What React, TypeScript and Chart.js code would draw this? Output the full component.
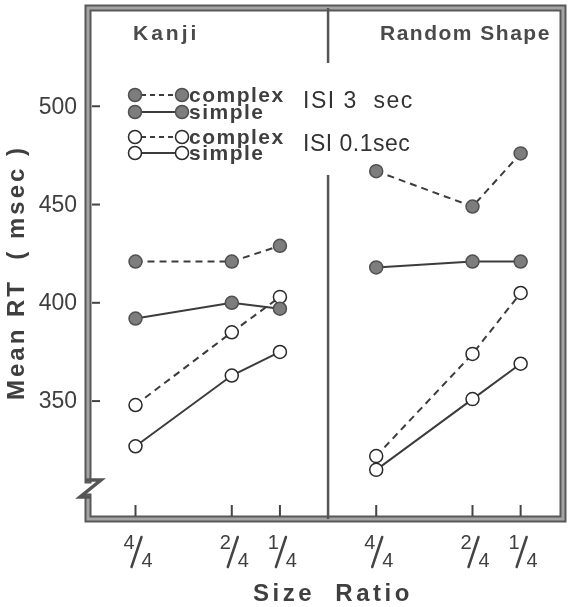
import React, { useEffect, useRef } from "react";
import { Chart, registerables } from "chart.js";

Chart.register(...registerables);

// ---- data ----
const panelTitles = ["Kanji", "Random Shape"];
const sizeRatios = [1, 0.5, 0.25];
const sizeRatioNumerators = ["4", "2", "1"];
const sizeRatioDenominators = ["4", "4", "4"];
const yTickValues = [350, 400, 450, 500];

const kanjiComplexISI3 = [421, 421, 429];
const kanjiSimpleISI3 = [392, 400, 397];
const kanjiComplexISI01 = [348, 385, 403];
const kanjiSimpleISI01 = [327, 363, 375];

const shapeComplexISI3 = [467, 449, 476];
const shapeSimpleISI3 = [418, 421, 421];
const shapeComplexISI01 = [322, 374, 405];
const shapeSimpleISI01 = [315, 351, 369];

const seriesNames = ["complex", "simple", "complex", "simple"];
const isiLabels = ["ISI 3  sec", "ISI 0.1sec"];
const yTitle = "Mean RT  ( msec )";
const xTitle = "Size  Ratio";

// ---- layout helpers ----
const PANEL_OFFSETS = [0, 1.25];
const toX = (panel: number, r: number) => PANEL_OFFSETS[panel] + (1 - r);

const FILLED = "#7d7d7d";
const FILLED_EDGE = "#505050";
const LINE = "#3c3c3c";
const TEXT = "#3f3f3f";
const SANS = '"Liberation Sans", Arial, sans-serif';

const panelSeries = [
  [kanjiComplexISI3, kanjiSimpleISI3, kanjiComplexISI01, kanjiSimpleISI01],
  [shapeComplexISI3, shapeSimpleISI3, shapeComplexISI01, shapeSimpleISI01],
];

function buildDatasets() {
  const ds: any[] = [];
  panelSeries.forEach((series, p) => {
    series.forEach((vals, s) => {
      const filled = s < 2;
      const dashed = s % 2 === 0;
      ds.push({
        label: `${panelTitles[p]} ${seriesNames[s]} ${isiLabels[filled ? 0 : 1]}`,
        data: vals.map((v, i) => ({ x: toX(p, sizeRatios[i]), y: v })),
        borderColor: LINE,
        borderWidth: 2,
        borderDash: dashed ? [7, 5] : [],
        pointRadius: 6.5,
        pointBorderWidth: 1.5,
        pointBackgroundColor: filled ? FILLED : "#ffffff",
        pointBorderColor: filled ? FILLED_EDGE : "#2a2a2a",
        fill: false,
        tension: 0,
      });
    });
  });
  return ds;
}

function marker(ctx: CanvasRenderingContext2D, x: number, y: number, filled: boolean) {
  ctx.beginPath();
  ctx.arc(x, y, 6.5, 0, Math.PI * 2);
  ctx.fillStyle = filled ? FILLED : "#ffffff";
  ctx.fill();
  ctx.lineWidth = 1.5;
  ctx.strokeStyle = filled ? FILLED_EDGE : "#2a2a2a";
  ctx.stroke();
}

const setSpacing = (ctx: CanvasRenderingContext2D, px: number) => {
  (ctx as any).letterSpacing = `${px}px`;
};

const decorPlugin = {
  id: "decor",
  beforeDatasetsDraw(chart: any) {
    const ctx: CanvasRenderingContext2D = chart.ctx;
    const { left, right, top, bottom } = chart.chartArea;
    const xs = chart.scales.x;
    const ys = chart.scales.y;
    ctx.save();

    // frame
    const frameStroke = (draw: () => void) => {
      ctx.lineCap = "square";
      ctx.lineJoin = "miter";
      ctx.setLineDash([]);
      ctx.strokeStyle = "#585858";
      ctx.lineWidth = 7;
      ctx.beginPath();
      draw();
      ctx.stroke();
      ctx.strokeStyle = "#a4a4a4";
      ctx.lineWidth = 3;
      ctx.beginPath();
      draw();
      ctx.stroke();
    };
    const breakTop = bottom - 39;
    const breakBot = bottom - 22;
    frameStroke(() => {
      ctx.moveTo(left, breakTop);
      ctx.lineTo(left, top);
      ctx.lineTo(right, top);
      ctx.lineTo(right, bottom);
      ctx.lineTo(left, bottom);
      ctx.lineTo(left, breakBot);
    });
    // axis break zigzag
    ctx.strokeStyle = "#555";
    ctx.lineWidth = 3.5;
    ctx.lineCap = "butt";
    ctx.beginPath();
    ctx.moveTo(left - 3, breakTop);
    ctx.lineTo(left + 13, breakTop);
    ctx.lineTo(left - 8, breakBot);
    ctx.lineTo(left + 3, breakBot);
    ctx.stroke();

    // panel divider
    const dx = xs.getPixelForValue(1);
    ctx.strokeStyle = "#555";
    ctx.lineWidth = 2.5;
    ctx.beginPath();
    ctx.moveTo(dx, top);
    ctx.lineTo(dx, 63);
    ctx.moveTo(dx, 175);
    ctx.lineTo(dx, bottom);
    ctx.stroke();

    // y ticks + labels
    ctx.font = `23px ${SANS}`;
    ctx.fillStyle = TEXT;
    ctx.textAlign = "right";
    ctx.textBaseline = "middle";
    ctx.strokeStyle = "#444";
    ctx.lineWidth = 2;
    yTickValues.forEach((v) => {
      const y = ys.getPixelForValue(v);
      ctx.beginPath();
      ctx.moveTo(left + 4, y);
      ctx.lineTo(left + 12, y);
      ctx.stroke();
      ctx.fillText(String(v), left - 11, y + 1);
    });

    // x ticks + fraction labels
    panelTitles.forEach((_, p) => {
      sizeRatios.forEach((r, i) => {
        const x = xs.getPixelForValue(toX(p, r));
        ctx.strokeStyle = "#444";
        ctx.lineWidth = 2;
        ctx.beginPath();
        ctx.moveTo(x, bottom - 3);
        ctx.lineTo(x, bottom - 14);
        ctx.stroke();
        ctx.font = `20px ${SANS}`;
        ctx.fillStyle = TEXT;
        ctx.textBaseline = "alphabetic";
        ctx.textAlign = "center";
        ctx.fillText(sizeRatioNumerators[i], x - 6.5, 549);
        ctx.fillText(sizeRatioDenominators[i], x + 11.5, 567);
        ctx.beginPath();
        ctx.lineWidth = 2.5;
        ctx.lineCap = "round";
        ctx.moveTo(x + 6, 537);
        ctx.lineTo(x - 4, 567);
        ctx.stroke();
        ctx.lineCap = "butt";
      });
    });

    // panel titles
    ctx.fillStyle = "#4a4a4a";
    ctx.textBaseline = "middle";
    ctx.font = `bold 21px ${SANS}`;
    setSpacing(ctx, 3);
    ctx.textAlign = "left";
    ctx.fillText(panelTitles[0], 133, 34);
    setSpacing(ctx, 1.5);
    ctx.fillText(panelTitles[1], 380, 34);

    // legend
    const rowsY = [95, 112, 137, 153];
    seriesNames.forEach((name, s) => {
      const y = rowsY[s];
      const filled = s < 2;
      const dashed = s % 2 === 0;
      ctx.strokeStyle = LINE;
      ctx.lineWidth = 2;
      ctx.setLineDash(dashed ? [5, 4] : []);
      ctx.beginPath();
      ctx.moveTo(141, y);
      ctx.lineTo(176, y);
      ctx.stroke();
      ctx.setLineDash([]);
      marker(ctx, 135, y, filled);
      marker(ctx, 182, y, filled);
      ctx.font = `bold 21px ${SANS}`;
      setSpacing(ctx, 1.5);
      ctx.fillStyle = TEXT;
      ctx.textAlign = "left";
      ctx.textBaseline = "middle";
      ctx.fillText(name, 189, y + 1);
    });

    // ISI labels
    ctx.font = `23px ${SANS}`;
    ctx.fillStyle = "#333";
    setSpacing(ctx, 1.5);
    ctx.fillText(isiLabels[0], 303, 102);
    setSpacing(ctx, 0.5);
    ctx.fillText(isiLabels[1], 303, 145);

    // axis titles
    ctx.font = `bold 24px ${SANS}`;
    ctx.fillStyle = TEXT;
    ctx.textAlign = "left";
    ctx.textBaseline = "middle";
    setSpacing(ctx, 3.5);
    ctx.fillText(xTitle, 253, 594);
    ctx.save();
    ctx.translate(17, 400);
    ctx.rotate(-Math.PI / 2);
    setSpacing(ctx, 3);
    ctx.fillText(yTitle, 0, 0);
    ctx.restore();
    setSpacing(ctx, 0);

    ctx.restore();
  },
};

export default function App() {
  const ref = useRef<HTMLCanvasElement | null>(null);
  useEffect(() => {
    if (!ref.current) return;
    const chart = new Chart(ref.current, {
      type: "line",
      data: { datasets: buildDatasets() },
      options: {
        responsive: false,
        animation: false,
        layout: { padding: { left: 88, right: 3, top: 7, bottom: 88 } },
        scales: {
          x: { type: "linear", display: false, min: -0.2467, max: 2.22 },
          y: { type: "linear", display: false, min: 290, max: 550 },
        },
        plugins: { legend: { display: false }, tooltip: { enabled: false } },
      },
      plugins: [decorPlugin],
    });
    return () => chart.destroy();
  }, []);
  return (
    <div style={{ position: "fixed", left: 0, top: 0, width: 571, height: 607, background: "#fff" }}>
      <canvas ref={ref} width={571} height={607} style={{ width: 571, height: 607 }} />
    </div>
  );
}
